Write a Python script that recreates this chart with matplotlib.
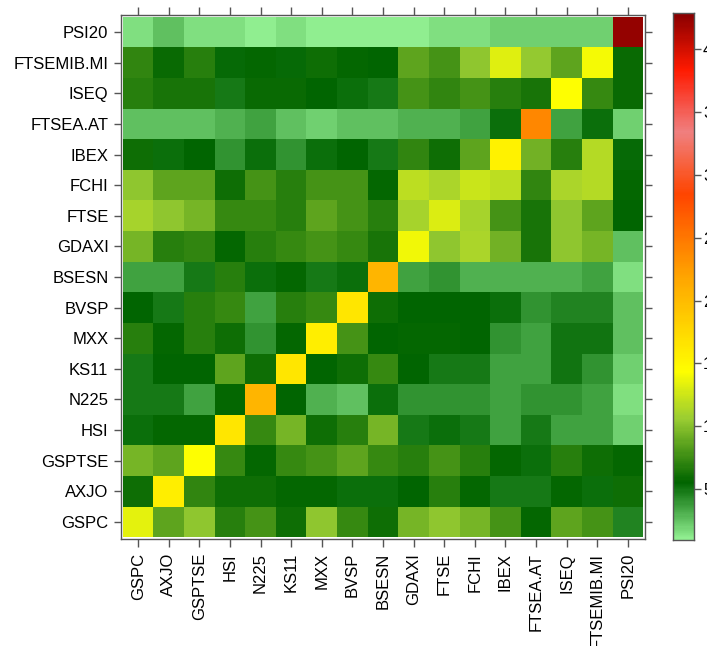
import numpy as np
import matplotlib
matplotlib.use("Agg")
from matplotlib import pyplot as plt
from matplotlib.colors import LinearSegmentedColormap

plt.rcParams['font.family'] = ['Liberation Sans', 'DejaVu Sans']

# index names, bottom row / left column first
names = ["GSPC", "AXJO", "GSPTSE", "HSI", "N225", "KS11", "MXX", "BVSP",
         "BSESN", "GDAXI", "FTSE", "FCHI", "IBEX", "FTSEA.AT", "ISEQ",
         "FTSEMIB.MI", "PSI20"]

# one list per row (row name -> values across the columns, same order as names)
gspc     = [13.3, 8.5, 10.2, 6.8, 7.8, 6.0, 10.2, 7.2, 6.0, 9.3, 10.2, 9.3, 7.8, 5.6, 8.5, 7.8, 4.5]
axjo     = [6.0, 15.8, 7.0, 6.0, 6.0, 5.6, 5.6, 5.1, 5.1, 5.4, 6.8, 5.6, 4.8, 4.8, 5.6, 5.1, 6.0]
gsptse   = [9.3, 8.5, 14.3, 7.2, 5.6, 7.2, 7.8, 8.5, 7.2, 6.8, 7.8, 6.8, 5.6, 5.1, 6.8, 6.0, 5.6]
hsi      = [5.1, 5.6, 5.6, 16.5, 7.2, 9.3, 6.0, 6.8, 9.3, 4.8, 5.1, 4.8, 3.5, 4.8, 3.5, 3.5, 2.0]
n225     = [4.8, 4.8, 3.5, 5.6, 20.5, 5.4, 3.0, 2.5, 5.1, 4.0, 4.0, 4.0, 3.5, 4.0, 4.0, 3.5, 1.5]
ks11     = [4.8, 5.4, 5.4, 8.5, 6.0, 16.5, 5.4, 6.0, 7.2, 5.4, 4.8, 4.8, 3.5, 3.5, 5.0, 4.0, 2.0]
mxx      = [6.8, 5.6, 6.8, 6.0, 4.0, 5.6, 15.8, 7.8, 5.4, 5.6, 5.6, 5.4, 4.0, 3.5, 5.0, 5.0, 2.5]
bvsp     = [5.4, 4.8, 6.8, 7.2, 3.5, 6.8, 7.2, 16.5, 6.0, 5.4, 5.4, 5.4, 5.1, 4.0, 4.5, 4.5, 2.5]
bsesn    = [3.5, 3.5, 4.8, 6.8, 5.1, 5.6, 4.8, 5.1, 20.5, 3.5, 4.0, 3.0, 3.0, 3.0, 3.0, 3.5, 1.5]
gdaxi    = [9.3, 6.8, 7.0, 5.6, 6.8, 7.2, 7.8, 7.2, 6.2, 13.8, 10.2, 11.2, 9.2, 6.2, 10.2, 9.3, 2.5]
ftse     = [11.0, 10.2, 9.3, 7.2, 7.2, 6.8, 8.5, 7.8, 6.8, 11.0, 13.0, 11.0, 7.8, 6.2, 10.2, 8.5, 5.4]
fchi     = [10.2, 8.5, 8.5, 6.0, 7.8, 6.8, 7.8, 7.8, 5.6, 11.8, 11.2, 12.4, 11.8, 7.0, 11.2, 11.5, 5.6]
ibex     = [6.0, 5.1, 5.4, 4.0, 5.1, 4.0, 5.1, 5.4, 4.8, 7.0, 6.0, 8.5, 15.5, 9.2, 6.8, 11.5, 5.2]
ftsea_at = [2.5, 2.5, 2.5, 3.0, 3.5, 2.5, 2.0, 2.5, 2.5, 3.0, 3.0, 3.5, 5.1, 24.0, 3.5, 5.1, 2.0]
iseq     = [6.8, 6.2, 6.2, 4.8, 5.7, 5.7, 5.4, 5.1, 4.8, 7.8, 7.0, 7.8, 6.8, 6.2, 14.3, 7.2, 5.7]
ftsemib  = [7.0, 5.8, 6.8, 5.3, 5.6, 5.3, 6.0, 5.6, 5.4, 8.5, 7.8, 10.2, 13.2, 10.3, 8.6, 14.0, 5.7]
psi20    = [1.5, 2.5, 1.5, 1.5, 1.0, 1.5, 1.0, 1.0, 1.0, 1.0, 1.5, 1.5, 2.0, 2.0, 2.0, 2.0, 42.5]

rows = [gspc, axjo, gsptse, hsi, n225, ks11, mxx, bvsp, bsesn, gdaxi,
        ftse, fchi, ibex, ftsea_at, iseq, ftsemib, psi20]
z = np.array(rows)

zmin, zmax = 0.93, 42.9
cbar_ticks = [5, 10, 15, 20, 25, 30, 35, 40]

# colour ramp, nodes
nodes = [(0.93, "#90EE90"), (5.4, "#006400"), (10.5, "#9ACD32"),
         (14.3, "#FFFF00"), (21.9, "#FFA500"), (28.5, "#FF4500"),
         (33.5, "#F08080"), (38.5, "#FF1A00"), (42.9, "#8B0000")]
cmap = LinearSegmentedColormap.from_list(
    "ramp", [((v - zmin) / (zmax - zmin), c) for v, c in nodes])

fig = plt.figure(figsize=(7.07, 6.46), dpi=100)
ax = fig.add_axes([121 / 707, 1 - 539 / 646, 524 / 707, 524 / 646])

n = len(names)
edges = np.arange(n + 1) - 0.5
ax.pcolormesh(edges, edges, z, cmap=cmap, vmin=zmin, vmax=zmax)
ax.set_xlim(-0.56, n - 0.44)
ax.set_ylim(-0.56, n - 0.44)

ax.set_xticks(range(n))
ax.set_yticks(range(n))
ax.set_xticklabels(names, rotation=90, fontsize=12)
ax.set_yticklabels(names, fontsize=12)
ax.tick_params(axis="x", which="both", direction="out", length=6, width=1,
               color="#555555", top=True, bottom=True, pad=4)
ax.tick_params(axis="y", which="both", direction="out", length=5, width=1,
               color="#555555", left=True, right=True, pad=4)
for s in ax.spines.values():
    s.set_color("#555555")
    s.set_linewidth(1)

# colour key
cax = fig.add_axes([673 / 707, 1 - 540 / 646, 21 / 707, 527 / 646])
grad = np.linspace(zmin, zmax, 300).reshape(-1, 1)
cax.imshow(grad, aspect="auto", origin="lower", cmap=cmap,
           extent=[0, 1, zmin, zmax], vmin=zmin, vmax=zmax)
cax.set_xlim(0, 1)
cax.set_ylim(zmin, zmax)
cax.set_xticks([])
cax.yaxis.tick_right()
cax.set_yticks(cbar_ticks)
cax.set_yticklabels([str(t) for t in cbar_ticks], fontsize=12)
cax.tick_params(axis="y", direction="out", length=5, width=1,
                color="#555555", pad=1.5)
for s in cax.spines.values():
    s.set_color("#555555")
    s.set_linewidth(1)

fig.savefig("out.png", dpi=100)
